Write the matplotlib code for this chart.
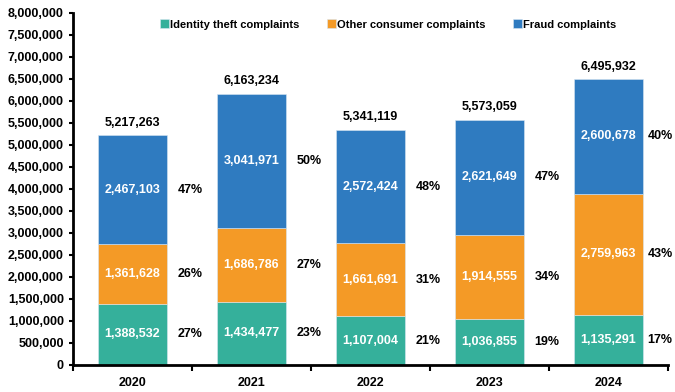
import matplotlib

matplotlib.use("Agg")

import matplotlib.pyplot as plt
import numpy as np
from matplotlib.ticker import FuncFormatter

plt.rcParams["font.family"] = ["Liberation Sans", "DejaVu Sans"]
plt.rcParams["font.weight"] = "bold"

YEARS = ["2020", "2021", "2022", "2023", "2024"]
IDENTITY = [1388532, 1434477, 1107004, 1036855, 1135291]
OTHER = [1361628, 1686786, 1661691, 1914555, 2759963]
FRAUD = [2467103, 3041971, 2572424, 2621649, 2600678]
TOTALS = [5217263, 6163234, 5341119, 5573059, 6495932]
PCT_IDENTITY = ["27%", "23%", "21%", "19%", "17%"]
PCT_OTHER = ["26%", "27%", "31%", "34%", "43%"]
PCT_FRAUD = ["47%", "50%", "48%", "47%", "40%"]

SERIES = [
    ("Identity theft complaints", IDENTITY, PCT_IDENTITY, "#35B09B"),
    ("Other consumer complaints", OTHER, PCT_OTHER, "#F49A26"),
    ("Fraud complaints", FRAUD, PCT_FRAUD, "#2F7BC0"),
]

fig = plt.figure(figsize=(6.75, 3.92), dpi=100)
ax = fig.add_axes([0.108, 0.069, 0.881, 0.898])

x = np.arange(len(YEARS))
width = 0.58
bottom = np.zeros(len(YEARS))

for label, values, pcts, color in SERIES:
    values = np.array(values, dtype=float)
    ax.bar(x, values, width, bottom=bottom, color=color, label=label,
           edgecolor="#d8e6f2", linewidth=0.4)
    for i, (val, pct) in enumerate(zip(values, pcts)):
        mid = bottom[i] + val / 2
        ax.text(x[i], mid, f"{int(val):,}", ha="center", va="center",
                color="white", fontsize=9, fontweight="bold")
        gap = 0.09 if i < len(YEARS) - 1 else 0.04
        ax.text(x[i] + width / 2 + gap, mid, pct, ha="left", va="center",
                color="black", fontsize=9, fontweight="bold", clip_on=False)
    bottom += values

for i, total in enumerate(TOTALS):
    ax.text(x[i], bottom[i] + 150000, f"{total:,}", ha="center", va="bottom",
            fontsize=9, fontweight="bold")

ax.set_xlim(-0.5, len(YEARS) - 0.5)
ax.set_ylim(0, 8000000)
ax.set_yticks(np.arange(0, 8000001, 500000))
ax.yaxis.set_major_formatter(FuncFormatter(lambda v, _: f"{int(v):,}"))
ax.set_xticks(x)
ax.set_xticklabels(YEARS)
ax.set_xticks(np.arange(-0.5, len(YEARS), 1.0), minor=True)
ax.tick_params(axis="x", which="major", length=0, labelsize=9, pad=9)
ax.tick_params(axis="x", which="minor", length=4, width=1.5, direction="out")
ax.tick_params(axis="y", length=3, width=1.5, labelsize=9, direction="out")

for side in ["top", "right"]:
    ax.spines[side].set_visible(False)
for side in ["left", "bottom"]:
    ax.spines[side].set_linewidth(2)

ax.legend(loc="upper center", bbox_to_anchor=(0.53, 1.01), ncol=3, frameon=False,
          fontsize=8, handlelength=0.8, handleheight=0.8, handletextpad=0.1,
          columnspacing=2.5)

fig.savefig("out.png", dpi=100)
